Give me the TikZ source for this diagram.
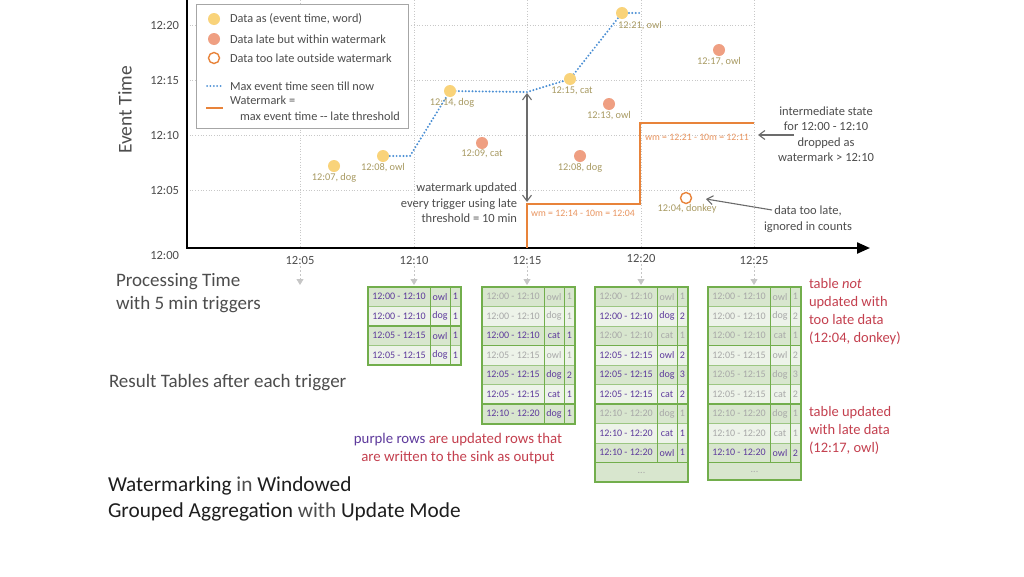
\documentclass[tikz,border=0pt]{standalone}
\usepackage{fontspec}
\setmainfont{Carlito}
\usetikzlibrary{arrows.meta}
\definecolor{ptyellow}{HTML}{F9D37A}
\definecolor{ptlate}{HTML}{EF9F82}
\definecolor{wmorange}{HTML}{E8833A}
\definecolor{wmtext}{HTML}{E99560}
\definecolor{maxblue}{HTML}{4A8FD4}
\definecolor{lbl}{HTML}{A89A62}
\definecolor{txtgray}{HTML}{4D4D4D}
\definecolor{tgreen}{HTML}{72AE4C}
\definecolor{rowA}{HTML}{D8E6CE}
\definecolor{rowB}{HTML}{EDF3E9}
\definecolor{upd}{HTML}{5E3A9C}
\definecolor{old}{HTML}{A8A8A8}
\definecolor{note}{HTML}{C4404F}
\definecolor{gridc}{HTML}{C8C8C8}
\definecolor{titlec}{HTML}{1E1E1E}
\def\rh{19.5}
\newcommand\tablerows[3]{%
  \foreach \w/\k/\c/\s [count=\i] in {#3} {
    \pgfmathsetmacro\ya{287+(\i-1)*\rh}
    \pgfmathsetmacro\ym{\ya+\rh/2}
    \ifodd\i \def\rowfill{rowA}\else\def\rowfill{rowB}\fi
    \fill[\rowfill] (#2,\ya) rectangle ++(93,\rh);
    \node[cell,text=\s] (#1w\i) at (#2+31,\ym) {\w};
    \node[cell,text=\s] (#1k\i) at (#2+72,\ym) {\k};
    \node[cell,text=\s] (#1c\i) at (#2+87.5,\ym) {\c};
  }%
}
\newcommand\tableframe[4]{%
  \foreach \j in {1,...,#2} { \draw[tthin] (#1,{287+\j*\rh}) -- ++(93,0); }
  \foreach \j in {#3} { \draw[tthick] (#1,{287+\j*\rh}) -- ++(93,0); }
  \draw[tcol] (#1+62,287) -- (#1+62,{287+#2*\rh});
  \draw[tcol] (#1+82,287) -- (#1+82,{287+#2*\rh});
  \draw[tborder] (#1,287) rectangle (#1+93,#4);
}
\begin{document}
\begin{tikzpicture}[x=1pt,y=-1pt,
  every node/.style={inner sep=0pt, outer sep=0pt},
  tick/.style={font=\fontsize{12.5}{14}\selectfont, text=txtgray},
  gridline/.style={gridc, dotted, line width=0.7pt},
  pt/.style={circle, minimum size=12pt, fill=ptyellow},
  late/.style={circle, minimum size=12pt, fill=ptlate},
  toolate/.style={circle, minimum size=11pt, draw=wmorange, line width=1.4pt, fill=white},
  plbl/.style={font=\fontsize{10.3}{12}\selectfont, text=lbl},
  ann/.style={font=\fontsize{12.5}{15.5}\selectfont, text=txtgray, align=center},
  leg/.style={font=\fontsize{12.3}{14}\selectfont, text=txtgray, anchor=west},
  maxline/.style={maxblue, line width=2.2pt, dash pattern=on 0pt off 3.4pt, line cap=round},
  wmline/.style={wmorange, line width=2.2pt},
  wmlbl/.style={font=\fontsize{9.8}{11}\selectfont, text=wmtext},
  garrow/.style={gray!85!black, line width=1.1pt, -{Straight Barb[length=6pt,width=9pt]}},
  parrow/.style={gray!45, line width=0.8pt, dash pattern=on 2pt off 2pt, -{Triangle[length=6pt,width=7pt]}},
  cell/.style={font=\fontsize{10}{11}\selectfont},
  tthin/.style={tgreen!70, line width=0.6pt},
  tthick/.style={tgreen, line width=1.6pt},
  tcol/.style={tgreen, line width=0.9pt},
  tborder/.style={tgreen, line width=2pt},
  big/.style={font=\fontsize{19}{23}\selectfont, text=txtgray, align=left},
  rednote/.style={font=\fontsize{14.5}{18}\selectfont, text=note, align=left, anchor=north west},
]
\useasboundingbox[fill=white] (0,0) rectangle (1024,576);
% grid
\foreach \x in {300,414,527,641,754} { \draw[gridline] (\x,0) -- (\x,248); }
\foreach \y in {25,80,135,190} { \draw[gridline] (187,\y) -- (754,\y); }
% axes
\coordinate (ytop) at (187,0);
\coordinate (origin) at (187,248);
\coordinate (xend) at (870,248);
\draw[line width=2.3pt, -{Triangle[length=13pt,width=11pt]}] (ytop) -- (origin) -- (xend);
% y ticks
\node[tick, anchor=east] (y20) at (179,25) {12:20};
\node[tick, anchor=east] (y15) at (179,80) {12:15};
\node[tick, anchor=east] (y10) at (179,135) {12:10};
\node[tick, anchor=east] (y05) at (179,190) {12:05};
\node[tick, anchor=east] (y00) at (179,255) {12:00};
\node[font=\fontsize{19.5}{20}\selectfont, text=txtgray, rotate=90] (ylab) at (125,110) {Event Time};
% x ticks
\node[tick] (px1) at (300,260) {12:05};
\node[tick] (px2) at (414,260) {12:10};
\node[tick] (px3) at (527,260) {12:15};
\node[tick] (px4) at (641,258) {12:20};
\node[tick] (px5) at (754,260) {12:25};
\coordinate (a1) at (300,285);
\coordinate (a2) at (414,285);
\coordinate (a3) at (527,285);
\coordinate (a4) at (641,285);
\coordinate (a5) at (754,285);
\foreach \i in {1,...,5} { \draw[parrow] ([yshift=-2pt]px\i.south) -- (a\i); }
% data point coordinates
\coordinate (c07dog) at (334,166);
\coordinate (c08owl) at (383,156);
\coordinate (c14dog) at (450,91);
\coordinate (c09cat) at (482,143);
\coordinate (c15cat) at (570,79);
\coordinate (c13owl) at (609,104);
\coordinate (c08dog) at (580,156);
\coordinate (c21owl) at (622,13);
\coordinate (c17owl) at (719,50);
\coordinate (c04donkey) at (686,198);
% max event time line
\coordinate (m1) at (410,156);
\coordinate (m2) at (527,92);
\coordinate (m3) at (640,13);
\draw[maxline] (c08owl) -- (m1) -- (c14dog) -- (m2) -- (c15cat) -- (c21owl) -- (m3);
% watermark line
\coordinate (w0) at (527,248);
\coordinate (w1) at (527,204);
\coordinate (w2) at (640,204);
\coordinate (w3) at (640,123);
\coordinate (w4) at (754,123);
\draw[wmline] (w0) -- (w1) -- (w2) -- (w3) -- (w4);
\node[wmlbl] (wml1) at (583,213) {wm = 12:14 - 10m = 12:04};
\node[wmlbl] (wml2) at (697,137) {wm = 12:21 - 10m = 12:11};
% double arrow
\coordinate (d1) at (527,93);
\coordinate (d2) at (527,202);
\draw[garrow, {Straight Barb[length=6pt,width=9pt]}-{Straight Barb[length=6pt,width=9pt]}] (d1) -- (d2);
% points
\node[pt] (p07dog) at (c07dog) {};
\node[pt] (p08owl) at (c08owl) {};
\node[pt] (p14dog) at (c14dog) {};
\node[late] (p09cat) at (c09cat) {};
\node[pt] (p15cat) at (c15cat) {};
\node[late] (p13owl) at (c13owl) {};
\node[late] (p08dog) at (c08dog) {};
\node[pt] (p21owl) at (c21owl) {};
\node[late] (p17owl) at (c17owl) {};
\node[toolate] (p04donkey) at (c04donkey) {};
\node[plbl] (l07dog) at (334,178) {12:07, dog};
\node[plbl] (l08owl) at (383,168) {12:08, owl};
\node[plbl] (l14dog) at (452,103) {12:14, dog};
\node[plbl] (l09cat) at (482,154) {12:09, cat};
\node[plbl] (l15cat) at (572,91) {12:15, cat};
\node[plbl] (l13owl) at (609,116) {12:13, owl};
\node[plbl] (l08dog) at (580,168) {12:08, dog};
\node[plbl] (l21owl) at (640,26) {12:21, owl};
\node[plbl] (l17owl) at (719,62) {12:17, owl};
\node[plbl] (l04donkey) at (687,209) {12:04, donkey};
% annotations
\node[ann, align=right, anchor=north east] (annwm) at (517,183) {watermark updated\\every trigger using late\\threshold = 10 min};
\node[ann] (anninter) at (826,134) {intermediate state\\for 12:00 - 12:10\\dropped as\\watermark > 12:10};
\coordinate (i1) at (794,135);
\coordinate (i2) at (758,135);
\draw[garrow] (i1) -- (i2);
\node[ann] (annlate) at (808,219) {data too late,\\ignored in counts};
\coordinate (k1) at (772,210);
\coordinate (k2) at (706,199);
\draw[garrow] (k1) -- (k2);
% legend
\node[draw=gray!70, line width=0.8pt, fill=white, minimum width=212pt, minimum height=124pt, anchor=north west] (legend) at (196,4) {};
\node[pt] (lg1) at (214,19) {};
\node[late] (lg2) at (214,39) {};
\node[toolate] (lg3) at (214,58) {};
\node[leg] (lt1) at (230,19) {Data as (event time, word)};
\node[leg] (lt2) at (230,39) {Data late but within watermark};
\node[leg] (lt3) at (230,58) {Data too late outside watermark};
\coordinate (lb1) at (207,86);
\coordinate (lb2) at (223,86);
\draw[maxblue, line width=2pt, dash pattern=on 0pt off 3.4pt, line cap=round] (lb1) -- (lb2);
\node[leg] (lt4) at (230,86) {Max event time seen till now};
\coordinate (lo1) at (206,108);
\coordinate (lo2) at (223,108);
\draw[wmline, line width=2pt] (lo1) -- (lo2);
\node[leg] (lt5) at (230,100) {Watermark =};
\node[leg] (lt6) at (240,116) {max event time -{}- late threshold};
% left texts
\node[big, anchor=north west] (proc) at (116,273) {Processing Time\\with 5 min triggers};
\node[big, anchor=west] (result) at (109,383) {Result Tables after each trigger};
\node[font=\fontsize{21.3}{25.5}\selectfont, text=titlec, align=left, anchor=north west] (title) at (108,477) {Watermarking {\color{txtgray}in} Windowed\\Grouped Aggregation {\color{txtgray}with} Update Mode};
% tables
\tablerows{t1}{368}{12:00 - 12:10/owl/1/upd, 12:00 - 12:10/dog/1/upd, 12:05 - 12:15/owl/1/upd, 12:05 - 12:15/dog/1/upd}
\tableframe{368}{4}{2}{365}
\tablerows{t2}{482}{12:00 - 12:10/owl/1/old, 12:00 - 12:10/dog/1/old, 12:00 - 12:10/cat/1/upd, 12:05 - 12:15/owl/1/old, 12:05 - 12:15/dog/2/upd, 12:05 - 12:15/cat/1/upd, 12:10 - 12:20/dog/1/upd}
\tableframe{482}{7}{3,6}{423.5}
\fill[rowA] (595,462.5) rectangle (688,482);
\node[cell, text=old] (t3dots) at (641.5,473) {...};
\tablerows{t3}{595}{12:00 - 12:10/owl/1/old, 12:00 - 12:10/dog/2/upd, 12:00 - 12:10/cat/1/old, 12:05 - 12:15/owl/2/upd, 12:05 - 12:15/dog/3/upd, 12:05 - 12:15/cat/2/upd, 12:10 - 12:20/dog/1/old, 12:10 - 12:20/cat/1/upd, 12:10 - 12:20/owl/1/upd}
\tableframe{595}{9}{3,6,9}{482}
\fill[rowA] (708,462.5) rectangle (801,480);
\node[cell, text=old] (t4dots) at (754.5,472) {...};
\tablerows{t4}{708}{12:00 - 12:10/owl/1/old, 12:00 - 12:10/dog/2/old, 12:00 - 12:10/cat/1/old, 12:05 - 12:15/owl/2/old, 12:05 - 12:15/dog/3/old, 12:05 - 12:15/cat/2/old, 12:10 - 12:20/dog/1/old, 12:10 - 12:20/cat/1/old, 12:10 - 12:20/owl/2/upd}
\tableframe{708}{9}{3,6,9}{480}
% notes
\node[rednote] (note1) at (809,278) {table \textit{not}\\updated with\\too late data\\(12:04, donkey)};
\node[rednote] (note2) at (809,406) {table updated\\with late data\\(12:17, owl)};
\node[font=\fontsize{14.8}{18}\selectfont, text=note, align=center] (note3) at (458,449) {{\color{upd}purple rows} are updated rows that\\are written to the sink as output};
\end{tikzpicture}
\end{document}
